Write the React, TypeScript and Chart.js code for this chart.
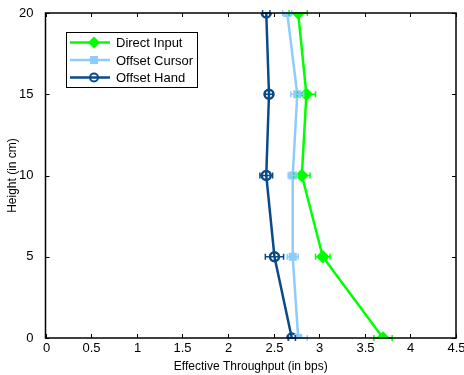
import React, { useEffect, useRef } from "react";
import { Chart, registerables } from "chart.js";

Chart.register(...registerables);

const heights = [0, 5, 10, 15, 20];
const directInput = [3.7, 3.04, 2.81, 2.86, 2.77];
const directInputErr = [0.1, 0.08, 0.09, 0.1, 0.1];
const offsetCursor = [2.77, 2.71, 2.71, 2.76, 2.65];
const offsetCursorErr = [0.1, 0.06, 0.05, 0.07, 0.05];
const offsetHand = [2.7, 2.51, 2.42, 2.45, 2.42];
const offsetHandErr = [0.04, 0.1, 0.07, 0.04, 0.04];

const xTicks = [0, 0.5, 1, 1.5, 2, 2.5, 3, 3.5, 4, 4.5];
const yTicks = [0, 5, 10, 15, 20];

const GREEN = "#00ff00";
const LIGHT = "#8ecbff";
const DARK = "#0b4a8a";
const FONT = "Liberation Sans, Arial, Helvetica, sans-serif";

const seriesInfo = [
  { label: "Direct Input", vals: directInput, err: directInputErr, color: GREEN, style: "rectRot", radius: 5, fill: GREEN },
  { label: "Offset Cursor", vals: offsetCursor, err: offsetCursorErr, color: LIGHT, style: "rect", radius: 4, fill: LIGHT },
  { label: "Offset Hand", vals: offsetHand, err: offsetHandErr, color: DARK, style: "circle", radius: 4.5, fill: "rgba(0,0,0,0)" },
];

const framePlugin = {
  id: "frame",
  afterDatasetsDraw(chart: any) {
    const { ctx, chartArea: a, scales } = chart;
    const xs = scales.x, ys = scales.y;
    ctx.save();
    // error bars
    seriesInfo.forEach((s) => {
      ctx.strokeStyle = s.color;
      ctx.lineWidth = 1.5;
      heights.forEach((h, i) => {
        const py = ys.getPixelForValue(h);
        const x1 = xs.getPixelForValue(s.vals[i] - s.err[i]);
        const x2 = xs.getPixelForValue(s.vals[i] + s.err[i]);
        ctx.beginPath();
        ctx.moveTo(x1, py); ctx.lineTo(x2, py);
        ctx.moveTo(x1, py - 3); ctx.lineTo(x1, py + 3);
        ctx.moveTo(x2, py - 3); ctx.lineTo(x2, py + 3);
        ctx.stroke();
      });
    });
    // frame
    ctx.strokeStyle = "#000";
    ctx.lineWidth = 1.5;
    ctx.strokeRect(a.left, a.top, a.right - a.left, a.bottom - a.top);
    ctx.lineWidth = 1;
    ctx.fillStyle = "#000";
    ctx.font = "13px " + FONT;
    ctx.textAlign = "center";
    ctx.textBaseline = "top";
    xTicks.forEach((t) => {
      const px = Math.round(xs.getPixelForValue(t)) + 0.5;
      ctx.beginPath();
      ctx.moveTo(px, a.bottom); ctx.lineTo(px, a.bottom - 4);
      ctx.moveTo(px, a.top); ctx.lineTo(px, a.top + 4);
      ctx.stroke();
      ctx.fillText(String(t), px, a.bottom + 4);
    });
    yTicks.forEach((t) => {
      const py = Math.round(ys.getPixelForValue(t)) + 0.5;
      ctx.beginPath();
      ctx.moveTo(a.left, py); ctx.lineTo(a.left + 4, py);
      ctx.moveTo(a.right, py); ctx.lineTo(a.right - 4, py);
      ctx.stroke();
    });
    // legend
    const lx = 66, ly = 32, lw = 131, lh = 55;
    ctx.textAlign = "left";
    ctx.fillStyle = "#fff";
    ctx.fillRect(lx, ly, lw, lh);
    ctx.strokeStyle = "#000";
    ctx.lineWidth = 1;
    ctx.strokeRect(lx + 0.5, ly + 0.5, lw, lh);
    ctx.font = "13px " + FONT;
    ctx.textBaseline = "middle";
    seriesInfo.forEach((s, i) => {
      const cy = ly + 10.5 + i * 17.5;
      ctx.strokeStyle = s.color;
      ctx.lineWidth = 2.5;
      ctx.beginPath();
      ctx.moveTo(lx + 4, cy); ctx.lineTo(lx + 44, cy);
      ctx.stroke();
      const cx = lx + 28;
      ctx.fillStyle = s.color;
      ctx.lineWidth = 2;
      if (s.style === "rectRot") {
        ctx.beginPath();
        ctx.moveTo(cx, cy - 6); ctx.lineTo(cx + 6, cy); ctx.lineTo(cx, cy + 6); ctx.lineTo(cx - 6, cy);
        ctx.closePath(); ctx.fill();
      } else if (s.style === "rect") {
        ctx.fillRect(cx - 4, cy - 4, 8, 8);
      } else {
        ctx.beginPath();
        ctx.arc(cx, cy, 4, 0, Math.PI * 2);
        ctx.stroke();
      }
      ctx.fillStyle = "#000";
      ctx.fillText(s.label, lx + 50, cy + 1);
    });
    ctx.restore();
  },
};

export default function App() {
  const ref = useRef<HTMLCanvasElement>(null);
  useEffect(() => {
    document.body.style.margin = "0";
    const chart = new Chart(ref.current!, {
      type: "scatter",
      data: {
        datasets: seriesInfo.map((s) => ({
          label: s.label,
          data: heights.map((h, i) => ({ x: s.vals[i], y: h })),
          showLine: true,
          borderColor: s.color,
          backgroundColor: s.fill,
          borderWidth: 2.5,
          pointStyle: s.style as any,
          pointRadius: s.radius,
          pointBorderColor: s.color,
          pointBackgroundColor: s.fill,
          pointBorderWidth: 2.5,
          tension: 0,
        })),
      },
      options: {
        responsive: false,
        animation: false,
        layout: { padding: { top: 13, right: 8, left: 0, bottom: 0 } },
        plugins: { legend: { display: false }, tooltip: { enabled: false } },
        scales: {
          x: {
            type: "linear",
            min: 0,
            max: 4.5,
            afterFit: (sc: any) => { sc.height = 37; },
            grid: { display: false },
            border: { display: false },
            ticks: { display: false },
            title: { display: true, text: "Effective Throughput (in bps)", color: "#000", font: { size: 12, family: FONT }, padding: { top: 0, bottom: 1 } },
          },
          y: {
            type: "linear",
            min: 0,
            max: 20,
            afterBuildTicks: (sc: any) => { sc.ticks = yTicks.map((v) => ({ value: v })); },
            afterFit: (sc: any) => { sc.width = 45.5; },
            grid: { display: false },
            border: { display: false },
            ticks: { color: "#000", font: { size: 13, family: FONT }, padding: 4, callback: (v: any) => String(v) },
            title: { display: true, text: "Height (in cm)", color: "#000", font: { size: 12, family: FONT }, padding: { top: 5, bottom: 0 } },
          },
        },
      },
      plugins: [framePlugin],
    });
    return () => chart.destroy();
  }, []);
  return (
    <div style={{ position: "fixed", left: 0, top: 0, width: 464, height: 375, background: "#fff" }}>
      <canvas ref={ref} width={464} height={375} style={{ width: 464, height: 375 }} />
    </div>
  );
}
